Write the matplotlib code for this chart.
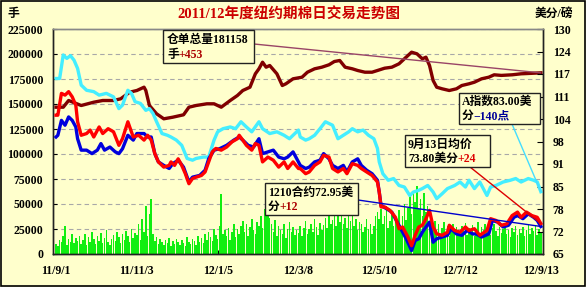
import numpy as np
import matplotlib
matplotlib.use('Agg')
import matplotlib.pyplot as plt
from matplotlib.patches import Rectangle

# 画图参数
FAM = ['Liberation Serif', 'Noto Sans CJK SC']
plt.rcParams['font.family'] = FAM
plt.rcParams['font.weight'] = 'bold'
plt.rcParams['axes.unicode_minus'] = False
BG = '#FFFFCC'

# 交易日序号 (11/9/1 = 0, 每45个交易日一个标签)
x_ticks = [0, 45, 90, 135, 180, 225, 270]
x_labels = ['11/9/1', '11/11/3', '12/1/5', '12/3/8', '12/5/10', '12/7/12', '12/9/13']
y2_ticks = [65, 71.5, 78, 84.5, 91, 97.5, 104, 110.5, 117, 123.5, 130]
y2_labels = ['65', '72', '78', '85', '91', '98', '104', '111', '117', '124', '130']

# 成交量 (千手), 每个交易日一个
volume = [10, 8, 14, 12, 18, 28, 9, 15, 12, 20, 11, 16, 13, 18, 10,
          14, 20, 9, 17, 12, 22, 15, 10, 18, 13, 21, 11, 16, 24, 12,
          9, 15, 19, 13, 22, 17, 11, 20, 14, 23, 18, 12, 25, 16, 21,
          19, 30, 14, 35, 22, 48, 18, 40, 55, 20, 13, 17, 10, 15, 12,
          9, 14, 11, 16, 8, 13, 10, 15, 12, 9, 14, 11, 8, 17, 12,
          10, 15, 13, 9, 18, 12, 16, 11, 20, 14, 22, 17, 13, 25, 19,
          15, 28, 60, 20, 24, 18, 26, 14, 22, 30, 17, 25, 20, 28, 33,
          22, 30, 18, 27, 35, 24, 20, 32, 28, 38, 26, 45, 40, 50, 36,
          30, 22, 34, 18, 28, 24, 20, 30, 16, 25, 32, 22, 27, 19, 24,
          21, 28, 18, 26, 33, 20, 25, 30, 22, 35, 27, 19, 31, 24, 29,
          36, 26, 40, 30, 34, 42, 28, 38, 32, 44, 30, 36, 26, 40, 33,
          38, 28, 35, 24, 32, 30, 22, 27, 35, 25, 30, 20, 28, 38, 42,
          35, 45, 30, 38, 48, 26, 33, 40, 28, 36, 30, 44, 25, 38, 50,
          34, 46, 58, 40, 62, 52, 68, 45, 55, 38, 61, 42, 48, 30, 36,
          28, 33, 24, 30, 20, 26, 32, 22, 28, 18, 25, 30, 21, 27, 24,
          20, 28, 23, 31, 19, 26, 22, 29, 18, 25, 32, 21, 27, 24, 30,
          22, 28, 19, 26, 30, 23, 18, 27, 21, 25, 29, 20, 24, 17, 26,
          22, 28, 19, 25, 21, 27, 18, 24, 30, 20, 26, 23, 28, 19, 25,
          22]

# 仓单总量 (手)
stock_idx = [0, 4, 7, 14, 21, 26, 32, 36, 41, 45, 49, 50, 52, 56, 60, 65, 71, 74, 78, 84,
             88, 92, 97, 101, 104, 108, 111, 113, 115, 117, 119, 123, 126, 128, 132, 137, 140, 144, 148, 152,
             155, 158, 161, 165, 168, 172, 176, 179, 183, 187, 191, 194, 198, 201, 204, 206, 208, 210, 212, 215,
             219, 223, 226, 230, 233, 237, 241, 244, 248, 254, 259, 265, 270]
stock = [146800, 146800, 153500, 148500, 151800, 153500, 153500, 155200, 161800, 163500,
         166800, 163500, 148500, 140200, 135200, 136800, 139200, 146800, 148500, 150200,
         150200, 146800, 153500, 158500, 163500, 166800, 180200, 185200, 191800, 186800,
         188500, 180200, 168500, 170200, 175200, 176800, 181800, 185200, 186800, 189200,
         192500, 193500, 186800, 185200, 183500, 181800, 181800, 183500, 185800, 186800,
         190200, 195200, 201800, 200200, 195200, 196800, 188500, 173500, 166800, 165200,
         163500, 165200, 168500, 170200, 171800, 175200, 176800, 179200, 178600, 179200,
         180200, 180700, 181158]

# A指数 (美分/磅)
a_idx = [0, 2, 4, 6, 8, 10, 12, 14, 17, 21, 24, 28, 32, 35, 37, 40, 42, 44, 47, 50,
         52, 54, 56, 59, 62, 64, 67, 70, 73, 76, 78, 82, 85, 88, 90, 93, 97, 100, 103, 106,
         109, 113, 115, 119, 123, 127, 130, 135, 136, 139, 141, 144, 147, 150, 152, 154, 157, 160, 163, 165,
         168, 171, 174, 177, 179, 180, 182, 185, 188, 191, 194, 197, 199, 202, 204, 207, 210, 212, 215, 218,
         222, 225, 228, 230, 233, 236, 240, 242, 245, 249, 253, 256, 259, 263, 266, 268, 270]
a_index = [115.7, 115.7, 122.5, 121.5, 122.3, 121.0, 118.6, 113.8, 112.3, 111.9,
           110.9, 111.4, 110.4, 107.0, 108.0, 112.3, 111.4, 109.0, 108.5, 106.5,
           107.0, 105.6, 103.2, 99.8, 99.3, 98.8, 97.9, 96.4, 92.6, 92.1,
           92.6, 93.0, 93.0, 97.9, 100.3, 101.2, 101.7, 101.2, 103.2, 101.7,
           100.3, 103.2, 101.2, 99.8, 100.3, 99.3, 98.3, 100.8, 98.8, 97.9,
           98.3, 99.3, 101.2, 103.2, 102.7, 102.2, 98.3, 99.3, 100.3, 101.2,
           100.3, 100.8, 99.3, 98.3, 95.5, 91.6, 88.2, 86.3, 86.8, 84.8,
           84.35, 81.9, 82.9, 83.4, 83.9, 84.8, 82.9, 81.0, 82.4, 83.9,
           84.8, 85.8, 84.35, 86.3, 83.9, 85.8, 81.9, 84.35, 84.8, 85.8,
           86.3, 86.8, 85.8, 86.8, 86.3, 85.8, 83.0]

# 均价 (美分/磅)
avg_idx = [0, 1, 3, 5, 7, 9, 11, 12, 14, 17, 19, 21, 24, 26, 29, 32, 35, 37, 40, 43,
           46, 49, 51, 53, 55, 57, 60, 63, 64, 66, 68, 70, 72, 74, 76, 78, 81, 83, 85, 87,
           89, 92, 95, 98, 101, 102, 104, 106, 109, 111, 113, 115, 118, 121, 124, 127, 129, 132, 135, 136,
           139, 141, 144, 147, 149, 152, 154, 157, 160, 162, 165, 168, 170, 173, 176, 179, 180, 181, 183, 186,
           189, 191, 193, 196, 198, 200, 202, 204, 206, 208, 210, 212, 215, 218, 219, 222, 225, 228, 230, 233,
           236, 240, 242, 245, 248, 251, 254, 257, 259, 262, 265, 268, 270]
avg_price = [105.1, 105.1, 111.4, 110.9, 111.9, 110.4, 108.0, 103.2, 99.3, 99.8,
             100.8, 98.8, 101.7, 99.8, 101.2, 100.3, 96.4, 98.3, 103.2, 98.8,
             99.3, 97.9, 99.3, 97.9, 94.0, 91.6, 90.1, 90.6, 91.6, 90.6,
             92.5, 90.6, 88.2, 85.3, 86.8, 87.2, 87.7, 88.7, 91.6, 94.5,
             95.5, 95.0, 95.9, 97.4, 98.3, 99.3, 97.9, 96.4, 95.0, 96.9,
             96.4, 91.6, 93.0, 92.1, 90.1, 91.6, 89.7, 91.6, 89.7, 89.7,
             88.2, 88.7, 90.6, 91.6, 93.5, 93.0, 89.7, 88.7, 89.7, 88.2,
             91.1, 90.6, 89.7, 88.7, 87.7, 85.8, 82.9, 78.6, 78.6, 77.6,
             75.6, 72.3, 72.8, 69.9, 67.4, 70.4, 72.8, 73.3, 75.2, 77.6,
             72.8, 70.8, 70.4, 71.3, 73.3, 71.8, 71.3, 72.8, 71.8, 72.3,
             70.4, 71.8, 75.2, 74.7, 73.3, 73.7, 76.1, 77.1, 75.6, 77.1,
             76.1, 75.6, 73.8]

# 1210合约 (美分/磅)
c1210_idx = [0, 1, 3, 5, 7, 9, 11, 12, 14, 17, 20, 23, 25, 27, 30, 33, 35, 37, 40, 43,
             45, 49, 51, 53, 55, 57, 60, 63, 65, 68, 71, 74, 76, 80, 83, 85, 88, 91, 95, 99,
             102, 104, 107, 110, 113, 115, 118, 121, 124, 127, 129, 132, 135, 136, 139, 141, 144, 147, 149, 152,
             154, 157, 160, 162, 165, 168, 170, 173, 176, 179, 180, 181, 184, 187, 190, 192, 195, 198, 200, 202,
             204, 206, 208, 210, 212, 215, 218, 220, 223, 226, 229, 232, 234, 237, 241, 243, 246, 249, 252, 255,
             257, 260, 263, 266, 268, 270]
c1210 = [98.8, 99.3, 103.6, 102.2, 104.6, 103.6, 101.7, 98.3, 95.0, 95.0,
         94.0, 95.0, 96.9, 95.0, 95.9, 94.5, 94.0, 95.4, 99.3, 97.9,
         99.8, 99.8, 98.8, 98.8, 94.0, 91.6, 90.6, 89.7, 91.1, 92.1,
         90.1, 85.8, 87.2, 87.7, 89.2, 92.5, 95.0, 95.4, 96.4, 97.9,
         98.8, 97.9, 96.4, 95.9, 98.3, 94.0, 94.5, 95.0, 93.0, 92.5,
         93.0, 94.5, 91.6, 90.6, 89.7, 90.1, 91.6, 92.1, 94.0, 92.5,
         90.6, 89.7, 90.6, 88.7, 91.6, 92.5, 90.6, 89.2, 88.2, 86.3,
         82.9, 79.0, 78.1, 77.1, 74.2, 72.3, 69.4, 66.0, 68.9, 69.4,
         71.3, 72.8, 74.2, 68.4, 69.4, 69.9, 70.4, 72.3, 70.8, 70.4,
         71.8, 70.8, 70.8, 69.9, 70.8, 74.7, 74.2, 72.8, 73.3, 75.6,
         76.1, 75.2, 76.6, 75.6, 74.7, 72.95]


def fp(x, y):
    # 原图像素坐标 -> figure fraction
    return (x / 586.0, 1 - y / 287.0)


fig = plt.figure(figsize=(5.86, 2.87), dpi=100, facecolor=BG)
ax = fig.add_axes([53 / 586, 33 / 287, 490 / 586, 225 / 287])
ax.set_facecolor(BG)
ax2 = ax.twinx()

n = len(volume)
ax.bar(np.arange(n), np.array(volume) * 1000, width=0.85, color='#11EE11', linewidth=0, zorder=2)
ax.plot(stock_idx, stock, color='#800000', lw=2.4, zorder=3)
ax2.plot(a_idx, a_index, color='#44EEFF', lw=2.4, zorder=2)
ax2.plot(c1210_idx, c1210, color='#0000DD', lw=2.4, zorder=3)
ax2.plot(avg_idx, avg_price, color='#FF0000', lw=2.4, zorder=4)

ax.set_xlim(-1.7, 271.2)
ax.set_ylim(0, 225000)
ax2.set_ylim(65, 130)
ax.set_yticks(range(0, 225001, 25000))
ax.set_yticklabels([str(v) for v in range(0, 225001, 25000)])
ax2.set_yticks(y2_ticks)
ax2.set_yticklabels(y2_labels)
ax.set_xticks(x_ticks)
ax.set_xticklabels(x_labels)
ax.tick_params(axis='both', direction='in', length=3, labelsize=8.5, pad=7)
ax.tick_params(axis='x', pad=8)
ax2.tick_params(axis='y', direction='in', length=4, labelsize=8.5, pad=7)
ax.yaxis.grid(True, linestyle=(0, (4, 3)), color='#A8A8A8', lw=0.8)
ax.set_axisbelow(True)
for a in (ax, ax2):
    for s in a.spines.values():
        s.set_color('#222222')
        s.set_linewidth(1)
    a.spines['top'].set_color('#888888')

# 标题和单位
fig.text(*fp(289, 15), '2011/12年度纽约期棉日交易走势图', ha='center', va='center',
         fontsize=10.5, color='#CC0000', fontweight='bold')
fig.text(*fp(13, 14), '手', ha='center', va='center', fontsize=8.5)
fig.text(*fp(554, 14), '美分/磅', ha='center', va='center', fontsize=8.5)

# 注释框
notes = [
    # (框 x0, y0, x1, y1, 文字左, 第一行, 第二行黑, 第二行彩色, 颜色, 连线起点, 连线颜色, 目标)
    (163, 30, 254, 63, 167, '仓单总量181158', '手', '+453', '#AA0000', (254, 44), '#994466',
     (ax, stock_idx[-1], stock[-1])),
    (459, 93, 540, 124, 462, 'A指数83.00美', '分', '−140点', '#000099', (512, 124), '#44DDFF',
     (ax2, a_idx[-1], a_index[-1])),
    (405, 135, 490, 167, 408, '9月13日均价', '73.80美分', '+24', '#DD0000', (470, 167), '#DD0000',
     (ax2, avg_idx[-1], avg_price[-1])),
    (265, 183, 358, 215, 268, '1210合约72.95美', '分', '+12', '#AA0000', (358, 200), '#0000CC',
     (ax2, c1210_idx[-1], c1210[-1])),
]
for x0, y0, x1, y1, xl, l1, l2, l2c, c2, start, lc, (ta, tx, ty) in notes:
    ta.annotate('', xy=(tx, ty), xycoords='data', xytext=fp(*start), textcoords='figure fraction',
                arrowprops=dict(arrowstyle='-', color=lc, lw=1, shrinkA=0, shrinkB=0),
                annotation_clip=False, zorder=5)
    ax2.add_patch(Rectangle(fp(x0, y1), (x1 - x0) / 586, (y1 - y0) / 287, transform=fig.transFigure,
                            fc=BG, ec='#222222', lw=1, zorder=6, clip_on=False))
    hgt = y1 - y0
    ax2.text(*fp(xl, y0 + hgt * 0.3), l1, transform=fig.transFigure, ha='left', va='center',
             fontsize=8.5, zorder=7)
    t2 = ax2.text(*fp(xl, y0 + hgt * 0.75), l2, transform=fig.transFigure, ha='left', va='center',
                  fontsize=8.5, zorder=7)
    ax2.annotate(l2c, xy=(1, 0), xycoords=t2, ha='left', va='bottom', fontsize=8.5,
                 color=c2, zorder=7, annotation_clip=False)

# 外框
fig.add_artist(Rectangle((0.002, 0.004), 0.996, 0.992, transform=fig.transFigure,
                         fill=False, ec='black', lw=1.2))

plt.savefig('out.png', dpi=100, facecolor=BG)
